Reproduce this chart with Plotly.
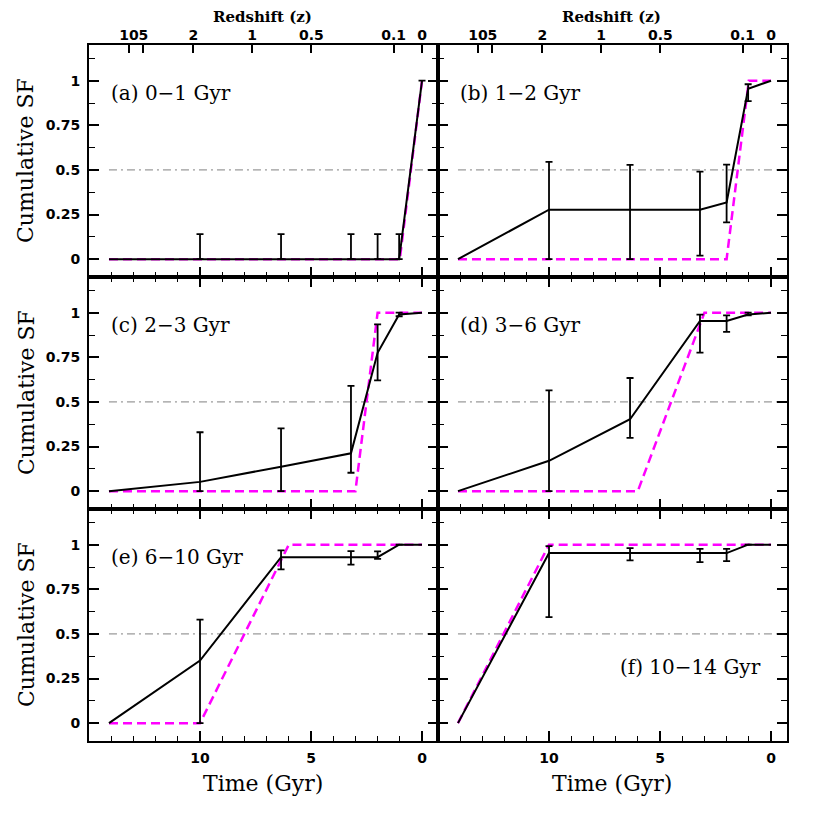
import plotly.graph_objects as go

# ---------------- data ----------------
obs_time = [14.1, 10.0, 6.35, 3.2, 2.0, 1.03, 0.0]
err_time = [10.0, 6.35, 3.2, 2.0, 1.03]

panel_labels = ["(a) 0\u22121 Gyr", "(b) 1\u22122 Gyr", "(c) 2\u22123 Gyr",
                "(d) 3\u22126 Gyr", "(e) 6\u221210 Gyr", "(f) 10\u221214 Gyr"]

cum_a = [0, 0, 0, 0, 0, 0, 1]
cum_b = [0, 0.277, 0.277, 0.277, 0.318, 0.955, 1]
cum_c = [0, 0.052, 0.137, 0.212, 0.775, 0.99, 1]
cum_d = [0, 0.17, 0.403, 0.954, 0.954, 0.99, 1]
cum_e = [0, 0.351, 0.93, 0.93, 0.93, 1.0, 1]
cum_f = [0, 0.953, 0.953, 0.953, 0.953, 1.0, 1]

hi_a = [0.14, 0.14, 0.14, 0.14, 0.14]
lo_a = [0, 0, 0, 0, 0]
hi_b = [0.545, 0.528, 0.49, 0.53, 0.98]
lo_b = [0, 0, 0.02, 0.206, 0.885]
hi_c = [0.33, 0.352, 0.59, 0.934, 1.0]
lo_c = [0, 0, 0.103, 0.621, 0.98]
hi_d = [0.565, 0.634, 0.989, 0.985, 1.0]
lo_d = [0, 0.298, 0.776, 0.892, 0.985]
hi_e = [0.58, 0.968, 0.964, 0.962, 1.0]
lo_e = [0, 0.862, 0.888, 0.92, 1.0]
hi_f = [0.992, 0.981, 0.977, 0.977, 1.0]
lo_f = [0.594, 0.912, 0.902, 0.908, 1.0]

# model (constant SF inside age bin) bin edges in Gyr
bin_old = [1, 2, 3, 6, 10, 14.1]
bin_young = [0, 1, 2, 3, 6, 10]
model_start = 14.1

# top axis: redshift
z_labels = ["10", "5", "2", "1", "0.5", "0.1", "0"]
z_time = [13.2, 12.55, 10.3, 7.65, 4.98, 1.28, 0.0]

cums = [cum_a, cum_b, cum_c, cum_d, cum_e, cum_f]
his = [hi_a, hi_b, hi_c, hi_d, hi_e, hi_f]
los = [lo_a, lo_b, lo_c, lo_d, lo_e, lo_f]

# ---------------- figure ----------------
OFF = 8  # page body margin
W = H = 830 - OFF
L, R, T, B = 89 - OFF, 43, 45 - OFF, 89
PW, PH = W - L - R, H - T - B

fig = go.Figure()

XR = [15.0, -0.72]
YR = [-0.1, 1.2]
tick_font = dict(family="DejaVu Sans", size=14, color="black", weight="bold")
serif = "DejaVu Serif"

for i in range(6):
    row, col = i // 2, i % 2
    n = i + 1
    xa = "x" if n == 1 else f"x{n}"
    ya = "y" if n == 1 else f"y{n}"
    fig.add_trace(go.Scatter(x=[14.1, -0.5], y=[0.5, 0.5], mode="lines",
                             line=dict(color="#808080", width=1, dash="8px,4px,2px,4px"),
                             xaxis=xa, yaxis=ya, showlegend=False, hoverinfo="skip"))
    mx = [model_start, bin_old[i], bin_young[i], 0.0]
    my = [0, 0, 1, 1]
    fig.add_trace(go.Scatter(x=mx, y=my, mode="lines",
                             line=dict(color="#ff00ff", width=2.5, dash="9px,5px"),
                             xaxis=xa, yaxis=ya, showlegend=False))
    fig.add_trace(go.Scatter(x=obs_time, y=cums[i], mode="lines",
                             line=dict(color="black", width=2),
                             xaxis=xa, yaxis=ya, showlegend=False))
    ey = cums[i][1:6]
    ex = list(err_time)
    up = [h - v for h, v in zip(his[i], ey)]
    dn = [v - l for l, v in zip(los[i], ey)]
    if i == 0:
        ex.append(0.0); ey = ey + [1.0]; up.append(0.0); dn.append(0.0)
    fig.add_trace(go.Scatter(x=ex, y=ey, mode="markers",
                             marker=dict(size=1, color="black"),
                             error_y=dict(type="data", symmetric=False, array=up, arrayminus=dn,
                                          color="black", thickness=1.8, width=3.5),
                             xaxis=xa, yaxis=ya, showlegend=False))

    xdom = [col * 0.5, col * 0.5 + 0.5]
    ydom = [(2 - row) / 3, (3 - row) / 3]
    xaxis = dict(domain=xdom, anchor=ya, range=XR, showgrid=False, zeroline=False,
                 showline=True, linecolor="black", linewidth=2,
                 mirror=True if row == 0 else "ticks",
                 ticks="inside", ticklen=10, tickwidth=1.6, tickcolor="black",
                 tickvals=[0, 5, 10], ticktext=["0", "5", "10"],
                 showticklabels=(row == 2), tickfont=tick_font, ticklabelstandoff=3,
                 minor=dict(tickvals=list(range(0, 16)), ticks="inside", ticklen=5,
                            tickwidth=1.4, tickcolor="black"))
    yaxis = dict(domain=ydom, anchor=xa, range=YR, showgrid=False, zeroline=False,
                 showline=True, linecolor="black", linewidth=2, mirror="ticks",
                 ticks="inside", ticklen=10, tickwidth=1.6, tickcolor="black",
                 tickvals=[0, 0.25, 0.5, 0.75, 1], ticktext=["0", "0.25", "0.5", "0.75", "1"],
                 showticklabels=(col == 0), tickfont=tick_font, ticklabelstandoff=4,
                 minor=dict(tickvals=[0.125, 0.375, 0.625, 0.875, 1.125], ticks="inside",
                            ticklen=6, tickwidth=1.4, tickcolor="black"))
    fig.layout["xaxis" if n == 1 else f"xaxis{n}"] = xaxis
    fig.layout["yaxis" if n == 1 else f"yaxis{n}"] = yaxis

# top redshift axes
for k, (base_x, base_y) in enumerate([("x", "y"), ("x2", "y2")]):
    name = f"xaxis{7 + k}"
    ref = f"x{7 + k}"
    fig.add_trace(go.Scatter(x=[0], y=[-5], mode="markers", marker=dict(opacity=0),
                             xaxis=ref, yaxis=base_y, showlegend=False, hoverinfo="skip"))
    fig.layout[name] = dict(overlaying=base_x, anchor=base_y, side="top", range=XR,
                            showgrid=False, zeroline=False, showline=False,
                            ticks="inside", ticklen=8, tickwidth=1.6, tickcolor="black",
                            tickvals=z_time, ticktext=z_labels, tickfont=tick_font,
                            tickangle=0, ticklabelstandoff=1)

def px2paper(xp, yp):
    xp -= OFF; yp -= OFF
    return (xp - L) / PW, 1 - (yp - T) / PH

ann = []
for c, xc in enumerate([262, 611]):
    x0, y0 = px2paper(xc, 17)
    ann.append(dict(x=x0, y=y0, xref="paper", yref="paper", text="Redshift (z)",
                    showarrow=False, font=dict(family=serif, size=15, color="black", weight="bold"),
                    xanchor="center", yanchor="middle"))
    x0, y0 = px2paper(xc + 1, 783)
    ann.append(dict(x=x0, y=y0, xref="paper", yref="paper", text="Time (Gyr)",
                    showarrow=False, font=dict(family=serif, size=22, color="black"),
                    xanchor="center", yanchor="middle"))
for r, yc in enumerate([161, 393, 625]):
    x0, y0 = px2paper(26, yc)
    ann.append(dict(x=x0, y=y0, xref="paper", yref="paper", text="Cumulative SF",
                    showarrow=False, textangle=-90, font=dict(family=serif, size=22, color="black"),
                    xanchor="center", yanchor="middle"))

for i in range(6):
    n = i + 1
    xd = "x domain" if n == 1 else f"x{n} domain"
    yd = "y domain" if n == 1 else f"y{n} domain"
    if i < 5:
        ann.append(dict(x=20 / 349, y=1 - 48 / 232, xref=xd, yref=yd, text=panel_labels[i],
                        showarrow=False, font=dict(family=serif, size=20, color="black"),
                        xanchor="left", yanchor="middle"))
    else:
        ann.append(dict(x=0.93, y=1 - 158 / 232, xref=xd, yref=yd, text=panel_labels[i],
                        showarrow=False, font=dict(family=serif, size=20, color="black"),
                        xanchor="right", yanchor="middle"))

fig.update_layout(width=W, height=H, margin=dict(l=L, r=R, t=T, b=B, pad=0),
                  paper_bgcolor="white", plot_bgcolor="white", annotations=ann,
                  showlegend=False)

fig.write_html("out.html")
